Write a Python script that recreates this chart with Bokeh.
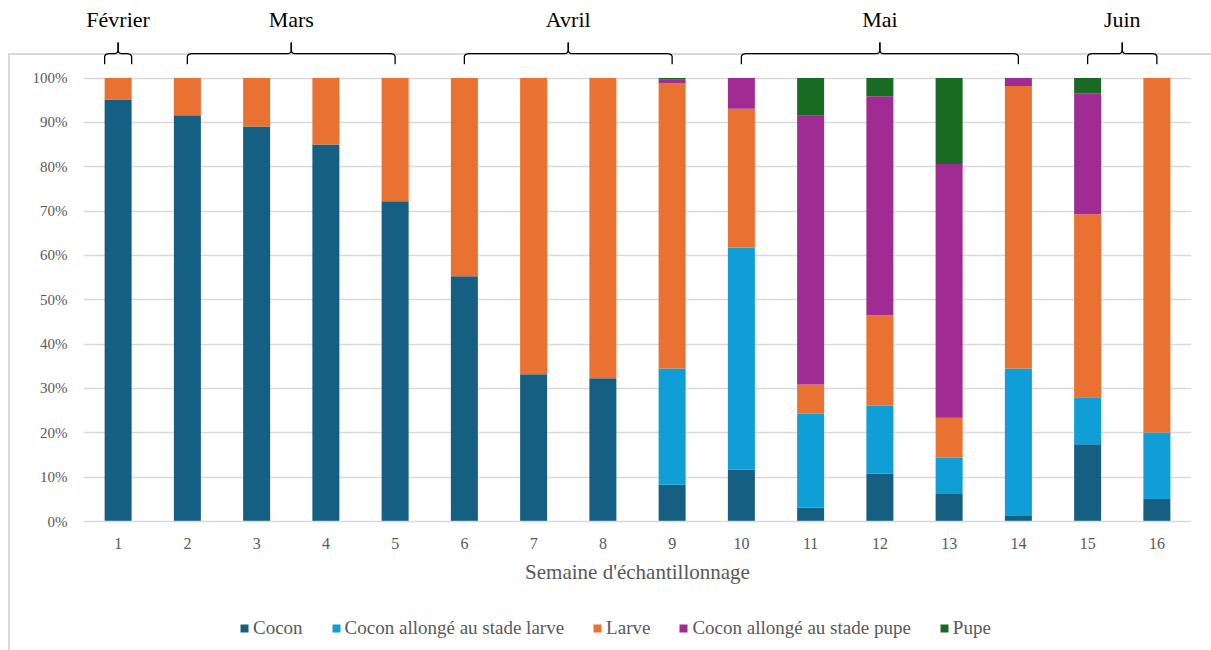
import numpy as np
from bokeh.plotting import figure
from bokeh.models import (ColumnDataSource, FixedTicker, PrintfTickFormatter, Legend,
                          LegendItem, InlineStyleSheet)
from bokeh.core.properties import value
from bokeh.embed import file_html
from bokeh.resources import INLINE

# ---------------- data ----------------
weeks = list(range(1, 17))
week_labels = [str(w) for w in weeks]
series_names = ["Cocon", "Cocon allongé au stade larve", "Larve",
                "Cocon allongé au stade pupe", "Pupe"]
cocon = [95.2, 91.6, 89.1, 85.0, 72.2, 55.3, 33.2, 32.3, 8.3, 11.7, 3.1, 10.8, 6.2, 1.4, 17.4, 5.1]
cocon_larve = [0, 0, 0, 0, 0, 0, 0, 0, 26.2, 50.1, 21.2, 15.3, 8.2, 33.1, 10.6, 15.0]
larve = [4.8, 8.4, 10.9, 15.0, 27.8, 44.7, 66.8, 67.7, 64.3, 31.3, 6.6, 20.4, 9.0, 63.7, 41.3, 79.9]
cocon_pupe = [0, 0, 0, 0, 0, 0, 0, 0, 0.8, 6.9, 60.6, 49.4, 57.2, 1.8, 27.3, 0]
pupe = [0, 0, 0, 0, 0, 0, 0, 0, 0.4, 0, 8.5, 4.1, 19.4, 0, 3.4, 0]
colors = ["#156082", "#0F9ED5", "#E97132", "#A02B93", "#196B24"]
y_ticks = list(range(0, 101, 10))

months = ["Février", "Mars", "Avril", "Mai", "Juin"]
month_start = [1, 2, 6, 10, 15]
month_end = [1, 5, 9, 14, 16]

# ---------------- figure ----------------
BAR_W = 0.39
FONT = "Liberation Serif"
GRAY = "#595959"
GRID = "#d9d9d9"
PX_PER_UNIT = 521 / 117.5          # vertical scale of the value axis

p = figure(x_range=(0.5, 16.5), y_range=(-(650 - 521) / PX_PER_UNIT, 117.5),
           frame_width=1108, frame_height=650,
           min_border_left=83, min_border_right=20, min_border_top=0, min_border_bottom=0,
           output_backend="svg", toolbar_location=None, tools="")
p.outline_line_color = None
p.background_fill_color = None
p.border_fill_color = None

# outer chart border (left and top edges of the chart area), drawn behind the canvas
p.stylesheets = [InlineStyleSheet(css="""
:host { position: relative; z-index: 0; }
:host::after {
  content: ''; position: absolute; left: 8px; top: 53px; width: 1203px; height: 597px;
  border-left: 2px solid #d9d9d9; border-top: 2px solid #d9d9d9;
  box-sizing: border-box; pointer-events: none; z-index: -1;
}
""")]

source = ColumnDataSource(dict(week=weeks, c0=cocon, c1=cocon_larve, c2=larve,
                               c3=cocon_pupe, c4=pupe))
keys = ["c0", "c1", "c2", "c3", "c4"]
renderers = p.vbar_stack(keys, x="week", width=BAR_W, color=colors, line_color=None,
                         source=source)

# axes
p.xaxis.fixed_location = 0
p.xaxis.ticker = FixedTicker(ticks=weeks)
p.xaxis.major_label_overrides = {w: l for w, l in zip(weeks, week_labels)}
p.xaxis.axis_line_color = GRID
p.xaxis.axis_line_width = 1.5
p.xaxis.major_tick_line_color = None
p.xaxis.minor_tick_line_color = None
p.xaxis.major_tick_out = 0
p.xaxis.major_label_standoff = 16
p.xaxis.major_label_text_font = FONT
p.xaxis.major_label_text_font_size = "16px"
p.xaxis.major_label_text_color = GRAY
p.xaxis.axis_label = "Semaine d'échantillonnage"
p.xaxis.axis_label_text_font = FONT
p.xaxis.axis_label_text_font_style = "normal"
p.xaxis.axis_label_text_font_size = "21px"
p.xaxis.axis_label_text_color = GRAY
p.xaxis.axis_label_standoff = 8

p.yaxis.ticker = FixedTicker(ticks=y_ticks)
p.yaxis.formatter = PrintfTickFormatter(format="%d%%")
p.yaxis.axis_line_color = None
p.yaxis.major_tick_line_color = None
p.yaxis.minor_tick_line_color = None
p.yaxis.major_tick_out = 0
p.yaxis.major_label_standoff = 16
p.yaxis.major_label_text_font = FONT
p.yaxis.major_label_text_font_size = "15px"
p.yaxis.major_label_text_color = GRAY

p.xgrid.grid_line_color = None
p.ygrid.grid_line_color = GRID
p.ygrid.grid_line_width = 1.5
p.ygrid.ticker = FixedTicker(ticks=y_ticks[1:])

# month braces
Y_H, Y_END, Y_TIP, Y_TXT = 105.5, 103.1, 108.0, 113.2
RX, RY = 0.06, 0.7
t = np.linspace(0, np.pi / 2, 8)
xs_all, ys_all = [], []
for s, e in zip(month_start, month_end):
    x0, x1 = (s - BAR_W / 2, e + BAR_W / 2) if s == e else (s, e)
    xm = (x0 + x1) / 2
    xs = [x0] + list(x0 + RX - RX * np.cos(t)) + list(xm - RX + RX * np.sin(t)) + [xm]
    ys = [Y_END] + list(Y_H - RY + RY * np.sin(t)) + list(Y_H + RY - RY * np.cos(t)) + [Y_TIP]
    xs_all.append(xs); ys_all.append(ys)
    xs = [xm] + list(xm + RX - RX * np.cos(t)) + list(x1 - RX + RX * np.sin(t)) + [x1]
    ys = [Y_TIP] + list(Y_H + RY - RY * np.sin(t)) + list(Y_H - RY + RY * np.cos(t)) + [Y_END]
    xs_all.append(xs); ys_all.append(ys)
p.multi_line(xs_all, ys_all, line_color="black", line_width=1.3)

centers = [(s + e) / 2 for s, e in zip(month_start, month_end)]
p.text(x=centers, y=[Y_TXT] * len(months), text=months, text_align="center",
       text_baseline="middle", text_font=value(FONT), text_font_size="22px",
       text_color="black")

# legend at the bottom of the chart area
items = [LegendItem(label=n, renderers=[r]) for n, r in zip(series_names, renderers)]
legend = Legend(items=items, orientation="horizontal", location=(156, 11),
                glyph_width=10, glyph_height=10, label_standoff=4, spacing=28,
                padding=0, margin=0, border_line_color=None, background_fill_alpha=0,
                label_text_font=FONT, label_text_font_size="19px", label_text_color=GRAY)
p.add_layout(legend, "center")

open("out.html", "w").write(file_html(p, INLINE))
